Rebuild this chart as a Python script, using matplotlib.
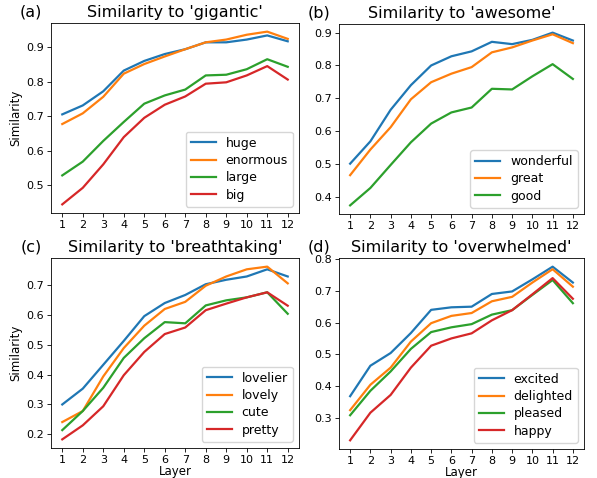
import numpy as np
import matplotlib
matplotlib.use('Agg')
from matplotlib import pyplot as plt

layers = list(range(1, 13))

# (a) gigantic
huge = [0.705, 0.731, 0.772, 0.832, 0.860, 0.880, 0.894, 0.914, 0.914, 0.922, 0.934, 0.917]
enormous = [0.677, 0.708, 0.756, 0.823, 0.851, 0.873, 0.894, 0.914, 0.922, 0.936, 0.945, 0.924]
large = [0.528, 0.568, 0.628, 0.683, 0.736, 0.760, 0.777, 0.818, 0.820, 0.836, 0.865, 0.843]
big = [0.444, 0.492, 0.560, 0.639, 0.695, 0.733, 0.757, 0.794, 0.798, 0.818, 0.845, 0.806]

# (b) awesome
wonderful = [0.501, 0.569, 0.665, 0.740, 0.800, 0.828, 0.843, 0.872, 0.865, 0.878, 0.900, 0.876]
great = [0.466, 0.544, 0.612, 0.697, 0.749, 0.775, 0.795, 0.840, 0.855, 0.876, 0.895, 0.868]
good = [0.374, 0.427, 0.497, 0.566, 0.623, 0.657, 0.672, 0.729, 0.727, 0.767, 0.804, 0.759]

# (c) breathtaking
lovelier = [0.300, 0.353, 0.433, 0.513, 0.596, 0.640, 0.667, 0.703, 0.718, 0.729, 0.753, 0.729]
lovely = [0.241, 0.278, 0.394, 0.489, 0.564, 0.620, 0.644, 0.698, 0.729, 0.753, 0.762, 0.706]
cute = [0.214, 0.278, 0.356, 0.456, 0.522, 0.576, 0.572, 0.632, 0.649, 0.659, 0.676, 0.604]
pretty = [0.183, 0.230, 0.294, 0.398, 0.476, 0.536, 0.558, 0.616, 0.638, 0.659, 0.676, 0.631]

# (d) overwhelmed
excited = [0.368, 0.464, 0.504, 0.567, 0.640, 0.648, 0.650, 0.690, 0.698, 0.736, 0.776, 0.726]
delighted = [0.324, 0.404, 0.458, 0.540, 0.598, 0.621, 0.630, 0.667, 0.681, 0.726, 0.768, 0.713]
pleased = [0.308, 0.385, 0.446, 0.517, 0.570, 0.585, 0.595, 0.625, 0.639, 0.687, 0.734, 0.661]
happy = [0.229, 0.316, 0.372, 0.458, 0.527, 0.550, 0.566, 0.607, 0.639, 0.689, 0.740, 0.675]

panels = [
    ('(a)', 'gigantic', [('huge', huge), ('enormous', enormous), ('large', large), ('big', big)]),
    ('(b)', 'awesome', [('wonderful', wonderful), ('great', great), ('good', good)]),
    ('(c)', 'breathtaking', [('lovelier', lovelier), ('lovely', lovely), ('cute', cute), ('pretty', pretty)]),
    ('(d)', 'overwhelmed', [('excited', excited), ('delighted', delighted), ('pleased', pleased), ('happy', happy)]),
]

fig = plt.figure(figsize=(5.97, 4.78), dpi=100)
W, H = 597.0, 478.0
# axes boxes in pixels: left, top, right, bottom
boxes = [(51, 23, 299, 213), (339, 24, 584, 214), (51, 258, 299, 448), (339, 258, 584, 449)]

for i, (tag, word, series) in enumerate(panels):
    l, t, r, b = boxes[i]
    ax = fig.add_axes([l / W, 1 - b / H, (r - l) / W, (b - t) / H])
    for name, vals in series:
        ax.plot(layers, vals, lw=1.6, label=name)
    ax.set_xticks(layers)
    ax.tick_params(labelsize=8, length=3, width=0.6, pad=2)
    ax.set_title("Similarity to '%s'" % word, fontsize=11.5, pad=4)
    ax.text(-0.08, 1.02, tag, transform=ax.transAxes, fontsize=11.5, ha='center', va='bottom')
    for s in ax.spines.values():
        s.set_linewidth(0.6)
    if i % 2 == 0:
        ax.set_ylabel('Similarity', fontsize=8.5, labelpad=3)
    if i >= 2:
        ax.set_xlabel('Layer', fontsize=8.5, labelpad=0)
    ax.legend(loc='lower right', fontsize=9, handlelength=2, labelspacing=0.35,
              borderaxespad=0.5)

plt.savefig('out.png', dpi=100)
